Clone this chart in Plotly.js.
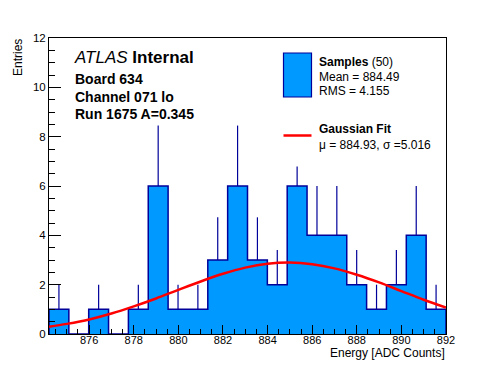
<!DOCTYPE html>
<html>
<head>
<meta charset="utf-8">
<script src="https://cdn.plot.ly/plotly-3.0.1.min.js"></script>
<style>
html,body{margin:0;padding:0;background:#fff;}
#chart{width:496px;height:372px;}
</style>
</head>
<body>
<div id="chart"></div>
<script>
// Histogram: 20 bins over the x range
var binLow = 874.2;
var binWidth = 0.89;
var counts = [1, 0, 1, 0, 1, 6, 1, 1, 3, 6, 3, 2, 6, 4, 4, 2, 1, 2, 4, 1];
// upper error bar lengths
var errUp = [1, 0, 1, 0, 1, 2.45, 1, 1, 1.73, 2.45, 1.73, 1.41, 2.45, 2, 2, 1.41, 1, 1.41, 2, 1];
// Gaussian fit curve
var fitX = [874.2, 875, 876, 877, 878, 879, 880, 881, 882, 883, 884, 885, 886, 887, 888, 889, 890, 891, 892];
var fitY = [0.29, 0.41, 0.59, 0.83, 1.12, 1.44, 1.79, 2.13, 2.44, 2.69, 2.85, 2.90, 2.83, 2.66, 2.40, 2.09, 1.74, 1.39, 1.07];
var xTickVals = [876, 878, 880, 882, 884, 886, 888, 890, 892];
var yTickVals = [0, 2, 4, 6, 8, 10, 12];

var nb = counts.length;
var edges = [];
for (var i = 0; i <= nb; i++) edges.push(binLow + i * binWidth);
var centers = [];
for (var j = 0; j < nb; j++) centers.push(binLow + (j + 0.5) * binWidth);

// step outline points
var stepX = [edges[0]], stepY = [0];
for (var k = 0; k < nb; k++) { stepX.push(edges[k]); stepY.push(counts[k]); }
stepX.push(edges[nb]); stepY.push(counts[nb - 1]);
stepX.push(edges[nb]); stepY.push(0);

var FONT = 'Liberation Sans, Arial, Helvetica, sans-serif';
var DARKBLUE = '#00009a';

var traces = [
  {
    type: 'scatter', mode: 'lines', x: stepX, y: stepY,
    line: {shape: 'hv', color: DARKBLUE, width: 1.5},
    fill: 'tozeroy', fillcolor: '#0099ff', hoverinfo: 'skip'
  },
  {
    type: 'scatter', mode: 'markers', x: centers, y: counts,
    marker: {size: 1, opacity: 0},
    error_y: {type: 'data', symmetric: false, array: errUp, arrayminus: counts.map(function(){return 0;}),
              color: DARKBLUE, thickness: 1.2, width: 0},
    hoverinfo: 'skip'
  },
  {
    type: 'scatter', mode: 'lines', x: fitX, y: fitY,
    line: {shape: 'spline', color: '#ff0000', width: 2.5}, hoverinfo: 'skip'
  }
];

function px(x) { return (x - 49) / 397; }
function py(y) { return (334 - y) / 296; }

var ann = [];
function txt(t, x, y, size, extra) {
  var a = {text: t, xref: 'paper', yref: 'paper', x: px(x), y: py(y), xanchor: 'left', yanchor: 'middle',
           showarrow: false, font: {family: FONT, size: size, color: '#000'}};
  if (extra) for (var key in extra) a[key] = extra[key];
  ann.push(a);
}
txt('<i>ATLAS</i> <b>Internal</b>', 72, 57.5, 17);
txt('<b>Board 634</b>', 73, 79, 14);
txt('<b>Channel 071 lo</b>', 73, 96.7, 14);
txt('<b>Run 1675 A=0.345</b>', 73, 114, 14);
txt('<b>Samples</b> (50)', 316.5, 61.7, 12);
txt('Mean = 884.49', 316.5, 77.3, 12);
txt('RMS = 4.155', 316.5, 90.5, 12);
txt('<b>Gaussian Fit</b>', 316.5, 129.3, 12);
txt('\u03bc = 884.93, \u03c3 =5.016', 316.5, 144.5, 12);
// axis titles
txt('Energy [ADC Counts]', 447, 353, 12, {xanchor: 'right'});
txt('Entries', 17.5, 37, 12, {xanchor: 'center', yanchor: 'top', textangle: -90});

var layout = {
  width: 496, height: 372,
  margin: {l: 49, r: 50, t: 38, b: 38, pad: 0},
  paper_bgcolor: '#fff', plot_bgcolor: '#fff',
  showlegend: false,
  hovermode: false,
  xaxis: {
    range: [binLow, 892], showgrid: false, zeroline: false,
    showline: true, linecolor: '#000', linewidth: 1, mirror: true,
    ticks: 'inside', ticklen: 9, tickcolor: '#000', tickwidth: 1,
    tickmode: 'array', tickvals: xTickVals,
    minor: {ticks: 'inside', ticklen: 5, dtick: 0.5, tick0: 874, tickcolor: '#000', showgrid: false},
    tickfont: {family: FONT, size: 11, color: '#000'},
    ticklabelstandoff: -4
  },
  yaxis: {
    range: [0, 12], showgrid: false, zeroline: false,
    showline: true, linecolor: '#000', linewidth: 1, mirror: true,
    ticks: 'inside', ticklen: 12, tickcolor: '#000', tickwidth: 1,
    tickmode: 'array', tickvals: yTickVals,
    minor: {ticks: 'inside', ticklen: 6, dtick: 0.5, tick0: 0, tickcolor: '#000', showgrid: false},
    tickfont: {family: FONT, size: 11.5, color: '#000'}
  },
  shapes: [
    {type: 'rect', xref: 'paper', yref: 'paper', layer: 'above', x0: px(268), x1: px(440), y0: py(166.5), y1: py(42),
     fillcolor: '#ffffff', line: {width: 0}},
    {type: 'rect', xref: 'paper', yref: 'paper', layer: 'above', x0: px(283.5), x1: px(311.5), y0: py(97), y1: py(53),
     fillcolor: '#0099ff', line: {color: DARKBLUE, width: 1.2}},
    {type: 'line', xref: 'paper', yref: 'paper', layer: 'above', x0: px(283.5), x1: px(311.5), y0: py(135.5), y1: py(135.5),
     line: {color: '#ff0000', width: 2.5}}
  ],
  annotations: ann
};

Plotly.newPlot('chart', traces, layout, {displayModeBar: false, staticPlot: true});
</script>
</body>
</html>
